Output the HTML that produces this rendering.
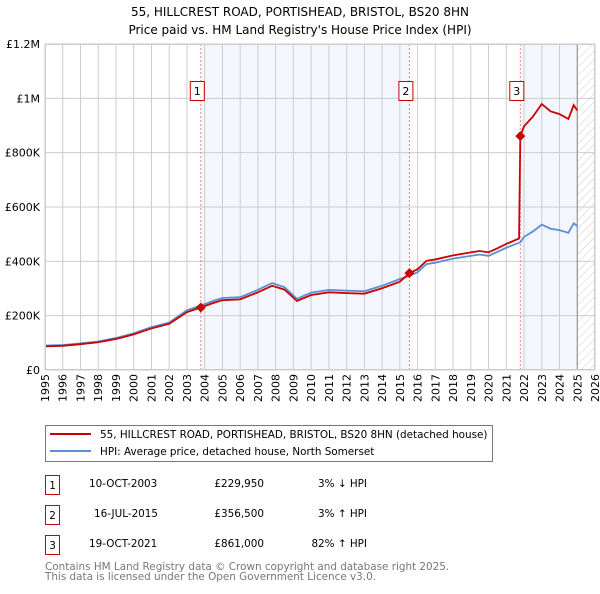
<!DOCTYPE html>
<html><head><meta charset="utf-8"><style>
body{margin:0;background:#fff;font-family:"DejaVu Sans","Liberation Sans",sans-serif;}
svg text{font-family:"DejaVu Sans","Liberation Sans",sans-serif;}
</style></head><body>
<svg id="c" width="600" height="590" viewBox="0 0 600 590" xmlns="http://www.w3.org/2000/svg">
<defs><pattern id="hatch" width="6" height="6" patternUnits="userSpaceOnUse" patternTransform="rotate(45)"><line x1="0" y1="0" x2="0" y2="6" stroke="#ccc" stroke-width="1"/></pattern></defs>
<text x="300" y="16" text-anchor="middle" font-size="12">55, HILLCREST ROAD, PORTISHEAD, BRISTOL, BS20 8HN</text>
<text x="300" y="34" text-anchor="middle" font-size="12">Price paid vs. HM Land Registry's House Price Index (HPI)</text>
<g id="plot"></g>
<g>
<rect x="45.5" y="425.5" width="447" height="36" fill="#fff" stroke="#777"/>
<line x1="50" y1="434" x2="91" y2="434" stroke="#cc0000" stroke-width="2"/>
<text x="100" y="438" font-size="10.4">55, HILLCREST ROAD, PORTISHEAD, BRISTOL, BS20 8HN (detached house)</text>
<line x1="50" y1="451" x2="91" y2="451" stroke="#5b8fd4" stroke-width="2"/>
<text x="100" y="455" font-size="10.4">HPI: Average price, detached house, North Somerset</text>
</g>
<g font-size="10.4">
<rect x="45.5" y="475.5" width="14" height="19" fill="#fff" stroke="#cc0000"/><text x="52.5" y="489" text-anchor="middle">1</text>
<text x="89" y="487">10-OCT-2003</text><text x="264" y="487" text-anchor="end">£229,950</text><text x="367" y="487" text-anchor="end">3% ↓ HPI</text>
<rect x="45.5" y="505.5" width="14" height="19" fill="#fff" stroke="#cc0000"/><text x="52.5" y="519" text-anchor="middle">2</text>
<text x="94" y="517">16-JUL-2015</text><text x="264" y="517" text-anchor="end">£356,500</text><text x="367" y="517" text-anchor="end">3% ↑ HPI</text>
<rect x="45.5" y="535.5" width="14" height="19" fill="#fff" stroke="#cc0000"/><text x="52.5" y="549" text-anchor="middle">3</text>
<text x="89" y="547">19-OCT-2021</text><text x="264" y="547" text-anchor="end">£861,000</text><text x="367" y="547" text-anchor="end">82% ↑ HPI</text>
</g>
<text x="45" y="570" font-size="10.4" fill="#777">Contains HM Land Registry data © Crown copyright and database right 2025.</text>
<text x="45" y="580" font-size="10.4" fill="#777">This data is licensed under the Open Government Licence v3.0.</text>
</svg>
<script>
const hpiYears=[1995,1996,1997,1998,1999,2000,2001,2002,2003,2003.78,2004.5,2005,2006,2007,2007.8,2008.5,2009.2,2010,2011,2012,2013,2014,2015,2015.54,2016,2016.5,2017,2018,2019,2019.5,2020,2020.5,2021,2021.79,2022,2022.5,2023,2023.5,2024,2024.5,2024.8,2025];
const hpiValues=[90,92,98,105,118,135,158,175,220,237,255,265,268,295,320,305,262,285,295,292,290,310,335,347,360,390,395,410,420,425,420,435,450,470,490,510,535,520,515,505,540,530];
const priceYears=[1995,1996,1997,1998,1999,2000,2001,2002,2003,2003.78,2004.5,2005,2006,2007,2007.8,2008.5,2009.2,2010,2011,2012,2013,2014,2015,2015.54,2016,2016.5,2017,2018,2019,2019.5,2020,2020.5,2021,2021.72,2021.79,2022,2022.5,2023,2023.5,2024,2024.5,2024.8,2025];
const priceValues=[87,89,95,102,114,131,153,170,213,230,247,257,260,286,310,296,254,276,286,283,281,301,325,356.5,371,402,407,422,433,438,433,448,464,484,861,897,933,979,952,942,924,975,955];
const saleYears=[2003.78,2015.54,2021.79];
const saleValues=[229.95,356.5,861];
const saleLabels=["1","2","3"];
const yTicks=[0,200,400,600,800,1000,1200];
const yTickLabels=["£0","£200K","£400K","£600K","£800K","£1M","£1.2M"];
const xTicks=[1995,1996,1997,1998,1999,2000,2001,2002,2003,2004,2005,2006,2007,2008,2009,2010,2011,2012,2013,2014,2015,2016,2017,2018,2019,2020,2021,2022,2023,2024,2025,2026];

const X0=45,X1=595,Y0=370,Y1=44;
const sx=y=>X0+(y-1995)/(2026-1995)*(X1-X0);
const sy=v=>Y0-v/1200*(Y0-Y1);
const NS="http://www.w3.org/2000/svg";
const g=document.getElementById('plot');
function mk(t,a){const e=document.createElementNS(NS,t);for(const k in a)e.setAttribute(k,a[k]);g.appendChild(e);return e;}
let e;
e=mk('rect',{x:X0,y:Y1,width:X1-X0,height:Y0-Y1,fill:'#fff'});


e=mk('rect',{x:sx(saleYears[0]),y:Y1,width:sx(saleYears[1])-sx(saleYears[0]),height:Y0-Y1,fill:'#f3f6fd'});


e=mk('rect',{x:sx(saleYears[2]),y:Y1,width:sx(2025)-sx(saleYears[2]),height:Y0-Y1,fill:'#f3f6fd'});


e=mk('rect',{x:sx(2025),y:Y1,width:X1-sx(2025),height:Y0-Y1,fill:'url(#hatch)'});


xTicks.forEach(t=>{
 e=mk('line',{x1:sx(t),x2:sx(t),y1:Y1,y2:Y0,stroke:'#ccc','stroke-width':1});
 
 
 e=mk('text',{x:0,y:0,'font-size':11,'text-anchor':'end',transform:`translate(${sx(t)+4},374) rotate(-90)`});
 e.textContent=t;
 
 
});
yTicks.forEach((t,i)=>{
 e=mk('line',{x1:X0,x2:X1,y1:sy(t),y2:sy(t),stroke:'#ccc','stroke-width':1});
 
 
 e=mk('text',{x:40,y:sy(t)+4,'font-size':11,'text-anchor':'end'});
 e.textContent=yTickLabels[i];
 
 
});
e=mk('line',{x1:sx(2025),x2:sx(2025),y1:Y1,y2:Y0,stroke:'#888','stroke-width':1});


saleYears.forEach((s,i)=>{
 e=mk('line',{x1:sx(s),x2:sx(s),y1:Y1,y2:Y0,stroke:'#f08080','stroke-width':1,'stroke-dasharray':'2,2'});
 
 
 e=mk('rect',{x:sx(s)-10.5,y:81.5,width:14,height:19,fill:'#fff',stroke:'#cc0000'});
 
 
 e=mk('text',{x:sx(s)-3.5,y:95,'font-size':11,'text-anchor':'middle'});
 e.textContent=saleLabels[i];
 
 
});
e=mk('polyline',{points:hpiYears.map((y,i)=>sx(y)+','+sy(hpiValues[i])).join(' '),fill:'none',stroke:'#5b8fd4','stroke-width':1.8});


e=mk('polyline',{points:priceYears.map((y,i)=>sx(y)+','+sy(priceValues[i])).join(' '),fill:'none',stroke:'#cc0000','stroke-width':1.8});


saleYears.forEach((s,i)=>{
 const cx=sx(s),cy=sy(saleValues[i]);
 e=mk('polygon',{points:`${cx},${cy-5} ${cx+5},${cy} ${cx},${cy+5} ${cx-5},${cy}`,fill:'#cc0000'});
 
 
});
e=mk('rect',{x:X0+0.5,y:Y1+0.5,width:X1-X0-1,height:Y0-Y1-1,fill:'none',stroke:'#ccc'});


</script>
</body></html>
